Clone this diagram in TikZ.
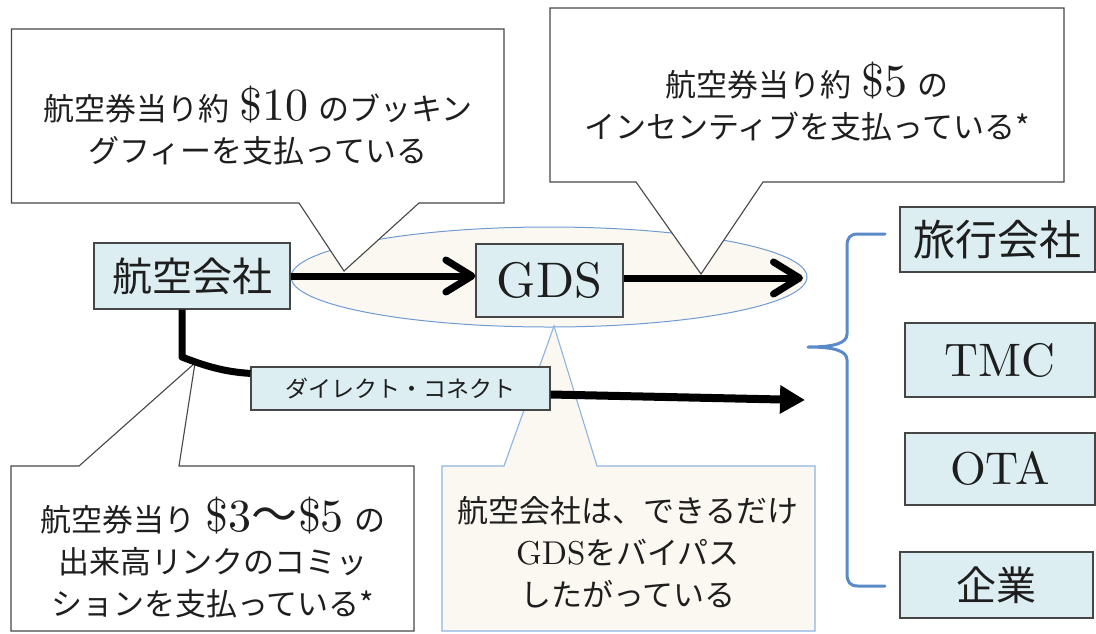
\documentclass[tikz,border=0pt]{standalone}
\usepackage{fontspec}
\setmainfont{lmroman10-regular}[Extension=.otf]
\newfontfamily\jp{Noto Sans CJK JP}
\usetikzlibrary{arrows.meta,calc}
\definecolor{boxfill}{RGB}{221,238,243}
\definecolor{boxline}{RGB}{70,70,70}
\definecolor{cream}{RGB}{251,248,242}
\definecolor{ellline}{RGB}{112,155,210}
\definecolor{cfline}{RGB}{141,179,226}
\definecolor{bracecol}{RGB}{90,138,200}
\definecolor{txt}{RGB}{30,30,30}
\newcommand\J[1]{{\jp #1}}
\newcommand\Lg[1]{{\fontsize{46}{42}\selectfont #1}}
\begin{document}
\begin{tikzpicture}[x=1pt,y=-1pt,
  bluebox/.style={draw=boxline, line width=1.2pt, fill=boxfill, inner sep=0pt, text=txt},
  callout/.style={draw=boxline, line width=1.1pt, fill=white, line join=miter},
  bluecallout/.style={draw=cfline, line width=1.1pt, fill=cream, line join=miter},
  ctext/.style={align=center, text=txt, font=\fontsize{31}{42}\selectfont, inner sep=0pt},
  barbarrow/.style={line width=7pt, -{Straight Barb[length=26pt, width=32pt, round]}},
  solidarrow/.style={line width=8pt, -{Triangle[length=25pt, width=27pt]}},
  bracestyle/.style={draw=bracecol, line width=3pt, line cap=round, line join=round}
]
\useasboundingbox (0,0) rectangle (1096,633);

% ellipse around GDS
\draw[draw=ellline, line width=1pt, fill=cream] (549,277) ellipse [x radius=258, y radius=50];

% callout 1
\draw[callout] (11.5,29) -- (504,29) -- (504,203) -- (419,203) -- (344,271) -- (299,203) -- (11.5,203) -- cycle;
\node[ctext] (c1t) at (258,126) {\J{航空券当り約} \Lg{\$10} \J{のブッキン}\\\J{グフィーを支払っている}};

% callout 2
\draw[callout] (550,8) -- (1064,8) -- (1064,182) -- (763,182) -- (701,274) -- (636,182) -- (550,182) -- cycle;
\node[ctext] (c2t) at (807,102) {\J{航空券当り約} \Lg{\$5} \J{の}\\\J{インセンティブを支払っている*}};

% callout 4 (blue)
\draw[bluecallout] (442,466) -- (504,466) -- (554,326) -- (597,466) -- (815,466) -- (815,631) -- (442,631) -- cycle;
\node[ctext] (c4t) at (628,552) {\J{航空会社は、できるだけ}\\{\fontsize{33}{42}\selectfont GDS}\J{をバイパス}\\\J{したがっている}};

% callout 3
\draw[callout] (11,466) -- (79,466) -- (195,363) -- (179,466) -- (414,466) -- (414,631) -- (11,631) -- cycle;
\node[ctext] (c3t) at (213,558) {\J{航空券当り} \Lg{\$3\J{〜}\$5} \J{の}\\\J{出来高リンクのコミッ}\\\J{ションを支払っている*}};

% boxes
\node[bluebox, minimum width=196, minimum height=66, font=\jp\fontsize{40}{40}\selectfont] (air) at (192,276) {航空会社};
\node[bluebox, minimum width=147, minimum height=73, font=\fontsize{50}{50}\selectfont] (gds) at (549.5,280.5) {GDS};
\node[bluebox, minimum width=299, minimum height=43, font=\jp\fontsize{23}{23}\selectfont] (dc) at (400.5,388.5) {ダイレクト・コネクト};
\node[bluebox, minimum width=195, minimum height=65, font=\jp\fontsize{42}{42}\selectfont] (trav) at (997.5,239.5) {旅行会社};
\node[bluebox, minimum width=190, minimum height=74, font=\fontsize{47}{47}\selectfont] (tmc) at (1000,360) {TMC};
\node[bluebox, minimum width=190, minimum height=72, font=\fontsize{46}{46}\selectfont] (ota) at (1000,469) {OTA};
\node[bluebox, minimum width=193, minimum height=66, font=\jp\fontsize{40}{40}\selectfont] (corp) at (996.5,585) {企業};

% arrows
\coordinate (a2end) at (803,278);
\coordinate (a3end) at (805,400);
\coordinate (bend) at (182,357);
\draw[barbarrow] (air.east) -- (air.east -| gds.west);
\draw[barbarrow] (gds.east |- a2end) -- (a2end);
\draw[line width=7pt, line join=round] ([xshift=-10pt]air.south) -- (bend) .. controls (205,366) and (225,372) .. ($(dc.north west)+(0,7)$);
\draw[solidarrow] ($(dc.east)+(0,6)$) -- (a3end);

% brace
\draw[bracestyle] (885,234) -- (858,234) .. controls (850,234) and (847,238) .. (847,246) -- (847,334) .. controls (847,343) and (835,347) .. (808,347) .. controls (835,347) and (847,351) .. (847,360) -- (847,574) .. controls (847,582) and (850,586) .. (858,586) -- (885,586);
\end{tikzpicture}
\end{document}
